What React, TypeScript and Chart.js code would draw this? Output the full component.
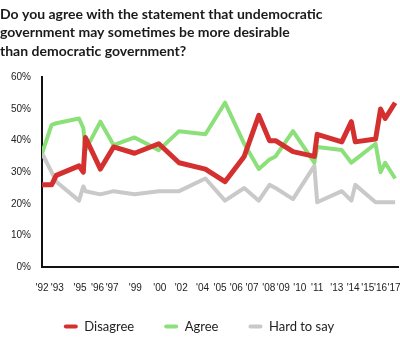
import React, { useEffect, useRef } from "react";
import { Chart, registerables } from "chart.js";

Chart.register(...registerables);

const titleLines = [
  "Do you agree with the statement that undemocratic",
  "government may sometimes be more desirable",
  "than democratic government?",
];

// survey waves on a 0–100 timeline position
const waves = [0, 2.7, 4.0, 10.4, 11.6, 12.2, 16.4, 20.1, 26.0, 32.8, 38.5, 45.9, 51.4, 56.8, 60.9, 63.9, 65.6, 70.5, 76.5, 77.3, 84.2, 86.9, 88.0, 93.7, 95.1, 96.4, 99.2];

const disagree = [26, 26, 29, 32, 30, 41, 31, 38, 36, 39, 33, 31, 27, 35, 48, 40, 40, 36.5, 35, 42, 39.6, 46, 39.6, 40.5, 50, 47, 52];
const agree = [36, 45, 45.5, 47, 44, 37, 46, 38.6, 41, 37, 43, 42, 52, 39, 31, 34, 35, 43, 33, 38, 37, 33, 34, 39, 30, 33, 28];
const hardToSay = [36, 30, 27, 21, 25.5, 24, 23, 24, 23, 24, 24, 28, 21, 25, 21, 26, 25, 21.5, 32, 20.5, 24, 21, 26, 20.5, 20.5, 20.5, 20.5];

const tickPositions = [0, 4.3, 10.7, 15.6, 19.7, 26.2, 33.1, 39.1, 45.1, 50, 54.6, 59, 63.7, 67.8, 72.4, 77.3, 82.8, 87.4, 91.5, 95.1, 98.9];
const tickLabels = ["'92", "'93", "'95", "'96", "'97", "'99", "'00", "'02", "'04", "'05", "'06", "'07", "'08", "'09", "'10", "'11", "'13", "'14", "'15", "'16", "'17"];

const yTicks = [0, 10, 20, 30, 40, 50, 60];

const RED = "#d43030";
const GREEN = "#8ce07a";
const GREY = "#c9c9c9";

const toPoints = (vals: number[]) => vals.map((v, i) => ({ x: waves[i], y: v }));

export default function App() {
  const ref = useRef<HTMLCanvasElement | null>(null);

  useEffect(() => {
    if (!ref.current) return;
    const chart = new Chart(ref.current, {
      type: "line",
      data: {
        datasets: [
          { label: "Disagree", data: toPoints(disagree), borderColor: RED, backgroundColor: RED, borderWidth: 5 },
          { label: "Agree", data: toPoints(agree), borderColor: GREEN, backgroundColor: GREEN, borderWidth: 4 },
          { label: "Hard to say", data: toPoints(hardToSay), borderColor: GREY, backgroundColor: GREY, borderWidth: 4 },
        ],
      },
      options: {
        animation: false,
        responsive: false,
        maintainAspectRatio: false,
        layout: { padding: { left: 0, right: 2, top: 0, bottom: 9 } },
        elements: {
          point: { radius: 0, hoverRadius: 0 },
          line: { tension: 0, borderJoinStyle: "round", fill: false },
        },
        scales: {
          x: {
            type: "linear",
            min: 0,
            max: 100,
            grid: { display: false, drawTicks: false },
            border: { display: true, color: "#111", width: 2 },
            afterBuildTicks: (scale: any) => {
              scale.ticks = tickPositions.map((v) => ({ value: v }));
            },
            afterFit: (scale: any) => {
              scale.paddingLeft = 0;
              scale.paddingRight = 0;
              scale.height = Math.max(scale.height - 19, 2);
              scale._computeLabelArea = () => undefined;
            },
            ticks: {
              autoSkip: false,
              maxRotation: 0,
              padding: 15,
              color: "#222",
              font: { family: "'Liberation Sans', Arial, sans-serif", size: 10 },
              callback: (_v: any, i: number) => tickLabels[i],
            },
          },
          y: {
            min: 0,
            max: 60,
            grid: { display: false, drawTicks: false },
            border: { display: true, color: "#111", width: 2 },
            afterBuildTicks: (scale: any) => {
              scale.ticks = yTicks.map((v) => ({ value: v }));
            },
            ticks: {
              padding: 11,
              color: "#222",
              font: { family: "'Liberation Sans', Arial, sans-serif", size: 10 },
              callback: (v: any) => v + "%",
            },
          },
        },
        plugins: {
          tooltip: { enabled: false },
          title: {
            display: true,
            text: titleLines,
            align: "start",
            color: "#1a1a1a",
            font: { family: "Lato, 'Open Sans', sans-serif", size: 14, weight: "bold", lineHeight: 1.32 },
            padding: { top: 5, bottom: 17 },
          },
          legend: {
            position: "bottom",
            labels: {
              boxWidth: 14,
              boxHeight: 4,
              padding: 30,
              useBorderRadius: true,
              borderRadius: 2,
              color: "#222",
              font: { family: "Lato, 'Open Sans', sans-serif", size: 13 },
              generateLabels: (c: any) =>
                Chart.defaults.plugins.legend.labels.generateLabels(c).map((l: any) => ({ ...l, lineWidth: 0 })),
            },
          },
        },
      },
    } as any);
    return () => chart.destroy();
  }, []);

  return (
    <div style={{ position: "absolute", left: 0, top: 0, width: 400, height: 352, background: "#fff" }}>
      <canvas ref={ref} width={400} height={352} style={{ width: 400, height: 352, display: "block" }} />
    </div>
  );
}
